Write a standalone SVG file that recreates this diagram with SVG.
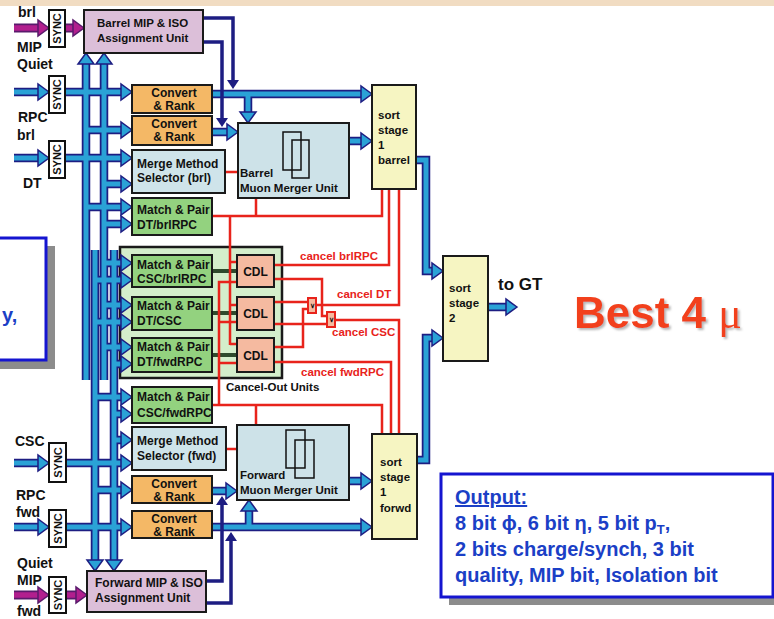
<svg xmlns="http://www.w3.org/2000/svg" width="774" height="619" viewBox="0 0 774 619">
<defs>
<style>
.t{font-family:"Liberation Sans",Arial,Helvetica,sans-serif;font-weight:bold;font-size:12px;fill:#111}
.s11{font-size:11.5px}
.lbl{font-size:14px}
.sy{font-size:11px}
.box{stroke:#1a1a1a;stroke-width:2}
.mip{fill:#dcbfd9}
.cr{fill:#f4b866}
.mm{fill:#cfe4ea}
.mp{fill:#93d27f}
.cdl{fill:#f5baa0}
.mu{fill:#cde2e8}
.ss{fill:#f6f5c2}
.sync{fill:#fff;stroke:#111;stroke-width:2}
.inner{fill:none;stroke:#111;stroke-width:1.5}
.red{fill:none;stroke:#e8231b;stroke-width:2.5}
.rtx{fill:#e8231b;font-size:11.5px}
.grn{fill:none;stroke:#2e4a2c;stroke-width:4}
.navy{fill:none;stroke:#1d1d82;stroke-width:3.5}
.ab{fill:#2aa2d6;stroke:#1d1d82;stroke-width:1.5}
.an{fill:#1d1d82}
.am{fill:#b21f8e;stroke:#5a1a6c;stroke-width:1.5}
.orv{font-size:7px}
.out{font-family:"Liberation Sans",Arial,Helvetica,sans-serif;font-weight:bold;font-size:20px;fill:#1b3fc6}
.gt{font-size:17px}
.best{font-family:"Liberation Sans",Arial,Helvetica,sans-serif;font-weight:bold;font-size:44px;fill:#f2401a}
.mu-g{font-family:"Liberation Serif","Times New Roman",serif;font-weight:normal}
</style>
<filter id="sh" x="-10%" y="-20%" width="130%" height="150%">
<feDropShadow dx="2" dy="2" stdDeviation="1" flood-color="#999" flood-opacity="0.7"/>
</filter>
<path id="ah" d="M0,0 L-11,-8 L-11,8 Z"/>
<path id="ahn" d="M0,0 L-9,-6 L-9,6 Z"/>
<g id="busp" fill="none">
<path d="M14,92H40 M65,92H123 M14,158H40 M65,158H123 M14,463H40 M66,463H123 M14,527H40 M66,527H123"/>
<path d="M86,62V380 M104,62V380 M95,250V562 M114,250V562"/>
<path d="M86,130H123 M104,184H123 M86,207H123 M104,224H123 M104,263H123 M95,280H123 M104,305H123 M95,322H123 M104,347H123 M114,364H123 M95,397H123 M114,414H123 M114,440H123 M95,490H123"/>
<path d="M211,94H363 M248,94V114 M211,132H229 M349,141H363 M416,160H426V271H434 M417,460H426V338H434 M488,307H507 M349,481H363 M211,491H228 M211,527H363 M249,527V509"/>
</g>
<path id="magp" fill="none" d="M14,28H40 M65,28H75 M14,595H40 M66,595H78"/>
</defs>

<rect x="0" y="0" width="774" height="619" fill="#fff"/>
<rect x="0" y="0" width="774" height="6" fill="#f1dcc2"/>

<g id="leftbox">
<rect x="-10" y="246" width="65" height="123" fill="#8c8c8c"/>
<rect x="-10" y="238" width="56" height="122" fill="#fff" stroke="#1515d0" stroke-width="3"/>
<text class="out" x="2" y="322">y,</text>
</g>

<g id="output">
<rect x="449" y="482" width="330" height="123" fill="#8c8c8c"/>
<rect x="441" y="474" width="332" height="123" fill="#fff" stroke="#1515d0" stroke-width="3"/>
<text class="out" x="455" y="504" text-decoration="underline">Output:</text>
<text class="out" x="455" y="530">8 bit ϕ, 6 bit η, 5 bit p<tspan style="font-size:13px" dy="4">T</tspan><tspan dy="-4">,</tspan></text>
<text class="out" x="455" y="556">2 bits charge/synch, 3 bit</text>
<text class="out" x="455" y="582">quality, MIP bit, Isolation bit</text>
</g>

<g id="cancelout">
<rect x="120" y="247" width="162" height="131" fill="#d4eecb" stroke="#1a1a1a" stroke-width="2.5"/>
<text class="t s11" x="226" y="391">Cancel-Out Units</text>
</g>

<g id="connectors">
<use href="#busp" stroke="#1d1d82" stroke-width="8.5"/>
<use href="#busp" stroke="#2aa2d6" stroke-width="5"/>
<g class="ab">
<use href="#ah" transform="translate(49,92)"/><use href="#ah" transform="translate(132,92)"/>
<use href="#ah" transform="translate(49,158)"/><use href="#ah" transform="translate(132,158)"/>
<use href="#ah" transform="translate(49,463)"/><use href="#ah" transform="translate(132,463)"/>
<use href="#ah" transform="translate(49,527)"/><use href="#ah" transform="translate(132,527)"/>
<use href="#ah" transform="translate(132,130)"/><use href="#ah" transform="translate(132,184)"/>
<use href="#ah" transform="translate(132,207)"/><use href="#ah" transform="translate(132,224)"/>
<use href="#ah" transform="translate(132,263)"/><use href="#ah" transform="translate(132,280)"/>
<use href="#ah" transform="translate(132,305)"/><use href="#ah" transform="translate(132,322)"/>
<use href="#ah" transform="translate(132,347)"/><use href="#ah" transform="translate(132,364)"/>
<use href="#ah" transform="translate(132,397)"/><use href="#ah" transform="translate(132,414)"/>
<use href="#ah" transform="translate(132,440)"/><use href="#ah" transform="translate(132,490)"/>
<use href="#ah" transform="translate(372,94)"/><use href="#ah" transform="translate(238,132)"/>
<use href="#ah" transform="translate(372,141)"/><use href="#ah" transform="translate(443,271)"/>
<use href="#ah" transform="translate(443,338)"/><use href="#ah" transform="translate(517,307)"/>
<use href="#ah" transform="translate(372,481)"/><use href="#ah" transform="translate(237,491)"/>
<use href="#ah" transform="translate(372,527)"/>
<use href="#ah" transform="translate(86,53) rotate(-90)"/><use href="#ah" transform="translate(104,53) rotate(-90)"/>
<use href="#ah" transform="translate(249,500) rotate(-90)"/>
<use href="#ah" transform="translate(95,571) rotate(90)"/><use href="#ah" transform="translate(114,571) rotate(90)"/>
<use href="#ah" transform="translate(248,123) rotate(90)"/>
</g>
<use href="#magp" stroke="#5a1a6c" stroke-width="9"/>
<use href="#magp" stroke="#b21f8e" stroke-width="5.5"/>
<g class="am">
<use href="#ah" transform="translate(49,28)"/><use href="#ah" transform="translate(84,28)"/>
<use href="#ah" transform="translate(49,595)"/><use href="#ah" transform="translate(87,595)"/>
</g>
<path class="navy" d="M203,18H233V81 M203,42H222V119 M206,581H222V505 M206,603H231V541"/>
<g class="an">
<use href="#ahn" transform="translate(233,89) rotate(90)"/><use href="#ahn" transform="translate(222,127) rotate(90)"/>
<use href="#ahn" transform="translate(222,496) rotate(-90)"/><use href="#ahn" transform="translate(231,532) rotate(-90)"/>
</g>
<path class="grn" d="M211,271H238 M211,313H238 M211,355H238"/>
<path class="red" d="M225,172H238 M256,198V216 M211,216H382V189 M230,216V345 M230,262H238 M230,305H238 M230,344H238 M219,405V282H238 M219,322H238 M219,363H238 M211,405H382V434 M256,405V425 M226,449H237"/>
<path class="red" d="M274,265H389V189 M274,279H322V316H327 M274,302H308 M274,324H327 M274,347H303V309H308 M316,305H399V189 M335,320H399V434 M274,362H391V434"/>
</g>

<g id="or1"><rect x="308" y="298" width="8" height="15" fill="#f5baa0" stroke="#e8231b" stroke-width="2"/><text class="t orv" x="312" y="308" text-anchor="middle">∨</text></g>
<g id="or2"><rect x="327" y="312" width="8" height="15" fill="#f5baa0" stroke="#e8231b" stroke-width="2"/><text class="t orv" x="331" y="322" text-anchor="middle">∨</text></g>

<g id="sync1"><rect class="sync" x="49" y="10" width="16" height="37"/><text class="t sy" text-anchor="middle" transform="translate(61,28.5) rotate(-90)">SYNC</text></g>
<g id="sync2"><rect class="sync" x="49" y="76" width="16" height="37"/><text class="t sy" text-anchor="middle" transform="translate(61,94.5) rotate(-90)">SYNC</text></g>
<g id="sync3"><rect class="sync" x="49" y="141" width="16" height="37"/><text class="t sy" text-anchor="middle" transform="translate(61,159.5) rotate(-90)">SYNC</text></g>
<g id="sync4"><rect class="sync" x="49" y="443" width="17" height="39"/><text class="t sy" text-anchor="middle" transform="translate(61.5,462.5) rotate(-90)">SYNC</text></g>
<g id="sync5"><rect class="sync" x="49" y="510" width="17" height="37"/><text class="t sy" text-anchor="middle" transform="translate(61.5,528.5) rotate(-90)">SYNC</text></g>
<g id="sync6"><rect class="sync" x="49" y="577" width="17" height="36"/><text class="t sy" text-anchor="middle" transform="translate(61.5,595) rotate(-90)">SYNC</text></g>

<g id="barrelMIP"><rect class="box mip" x="84" y="10" width="119" height="43"/><text class="t s11" x="97" y="27">Barrel MIP &amp; ISO</text><text class="t s11" x="97" y="42">Assignment Unit</text></g>
<g id="forwardMIP"><rect class="box mip" x="87" y="571" width="119" height="41"/><text class="t" x="95" y="587">Forward MIP &amp; ISO</text><text class="t" x="95" y="602">Assignment Unit</text></g>

<g id="convBrl1"><rect class="box cr" x="132" y="85" width="80" height="28"/><text class="t" x="174" y="97" text-anchor="middle">Convert</text><text class="t" x="174" y="110" text-anchor="middle">&amp; Rank</text></g>
<g id="convBrl2"><rect class="box cr" x="132" y="116" width="80" height="29"/><text class="t" x="174" y="128" text-anchor="middle">Convert</text><text class="t" x="174" y="141" text-anchor="middle">&amp; Rank</text></g>
<g id="mergeBrl"><rect class="box mm" x="132" y="150" width="93" height="43"/><text class="t" x="137" y="168">Merge Method</text><text class="t" x="137" y="182">Selector (brl)</text></g>
<g id="mpDTbrlRPC"><rect class="box mp" x="132" y="198" width="80" height="37"/><text class="t" x="137" y="214">Match &amp; Pair</text><text class="t" x="137" y="229">DT/brlRPC</text></g>
<g id="mpCSCbrlRPC"><rect class="box mp" x="132" y="255" width="80" height="32"/><text class="t" x="137" y="269">Match &amp; Pair</text><text class="t" x="137" y="283">CSC/brlRPC</text></g>
<g id="mpDTCSC"><rect class="box mp" x="132" y="297" width="80" height="33"/><text class="t" x="137" y="310">Match &amp; Pair</text><text class="t" x="137" y="325">DT/CSC</text></g>
<g id="mpDTfwdRPC"><rect class="box mp" x="132" y="338" width="80" height="34"/><text class="t" x="137" y="351">Match &amp; Pair</text><text class="t" x="137" y="366">DT/fwdRPC</text></g>
<g id="cdl1"><rect class="box cdl" x="237" y="255" width="37" height="32"/><text class="t" x="255.5" y="275.5" text-anchor="middle">CDL</text></g>
<g id="cdl2"><rect class="box cdl" x="237" y="297" width="37" height="33"/><text class="t" x="255.5" y="318" text-anchor="middle">CDL</text></g>
<g id="cdl3"><rect class="box cdl" x="237" y="338" width="37" height="34"/><text class="t" x="255.5" y="359.5" text-anchor="middle">CDL</text></g>
<g id="mpCSCfwdRPC"><rect class="box mp" x="132" y="387" width="80" height="36"/><text class="t" x="137" y="401">Match &amp; Pair</text><text class="t" x="137" y="417">CSC/fwdRPC</text></g>
<g id="mergeFwd"><rect class="box mm" x="132" y="427" width="94" height="43"/><text class="t" x="137" y="445">Merge Method</text><text class="t" x="137" y="460">Selector (fwd)</text></g>
<g id="convFwd1"><rect class="box cr" x="132" y="476" width="80" height="27"/><text class="t" x="174" y="488" text-anchor="middle">Convert</text><text class="t" x="174" y="501" text-anchor="middle">&amp; Rank</text></g>
<g id="convFwd2"><rect class="box cr" x="132" y="511" width="80" height="27"/><text class="t" x="174" y="523" text-anchor="middle">Convert</text><text class="t" x="174" y="536" text-anchor="middle">&amp; Rank</text></g>

<g id="barrelMerger"><rect class="box mu" x="238" y="123" width="111" height="75"/><rect class="inner" x="283" y="132" width="18" height="38"/><rect class="inner" x="292" y="140" width="17" height="38"/><text class="t s11" x="240" y="177">Barrel</text><text class="t s11" x="240" y="192">Muon Merger Unit</text></g>
<g id="forwardMerger"><rect class="box mu" x="237" y="425" width="112" height="75"/><rect class="inner" x="286" y="430" width="19" height="38"/><rect class="inner" x="295" y="440" width="19" height="38"/><text class="t s11" x="240" y="479">Forward</text><text class="t s11" x="240" y="494">Muon Merger Unit</text></g>

<g id="sort1barrel"><rect class="box ss" x="372" y="85" width="44" height="104"/><text class="t s11" x="378" y="119">sort</text><text class="t s11" x="378" y="134">stage</text><text class="t s11" x="378" y="149">1</text><text class="t s11" x="378" y="164">barrel</text></g>
<g id="sort1forwd"><rect class="box ss" x="372" y="434" width="45" height="105"/><text class="t s11" x="380" y="466">sort</text><text class="t s11" x="380" y="481">stage</text><text class="t s11" x="380" y="496">1</text><text class="t s11" x="380" y="512">forwd</text></g>
<g id="sort2"><rect class="box ss" x="443" y="256" width="45" height="105"/><text class="t s11" x="449" y="292">sort</text><text class="t s11" x="449" y="307">stage</text><text class="t s11" x="449" y="322">2</text></g>

<g id="labels">
<text class="t lbl" x="18" y="17">brl</text>
<text class="t lbl" x="17" y="52">MIP</text>
<text class="t lbl" x="17" y="69">Quiet</text>
<text class="t lbl" x="18" y="122">RPC</text>
<text class="t lbl" x="17" y="140">brl</text>
<text class="t lbl" x="23" y="188">DT</text>
<text class="t lbl" x="15" y="446">CSC</text>
<text class="t lbl" x="16" y="500">RPC</text>
<text class="t lbl" x="16" y="517">fwd</text>
<text class="t lbl" x="17" y="568">Quiet</text>
<text class="t lbl" x="17" y="585">MIP</text>
<text class="t lbl" x="17" y="616">fwd</text>
<text class="t rtx" x="300" y="260">cancel brlRPC</text>
<text class="t rtx" x="337" y="298">cancel DT</text>
<text class="t rtx" x="332" y="336">cancel CSC</text>
<text class="t rtx" x="301" y="376">cancel fwdRPC</text>
<text class="t gt" x="498" y="290">to GT</text>
<text class="best" x="574" y="328" filter="url(#sh)">Best 4 <tspan class="mu-g">μ</tspan></text>
</g>
</svg>
